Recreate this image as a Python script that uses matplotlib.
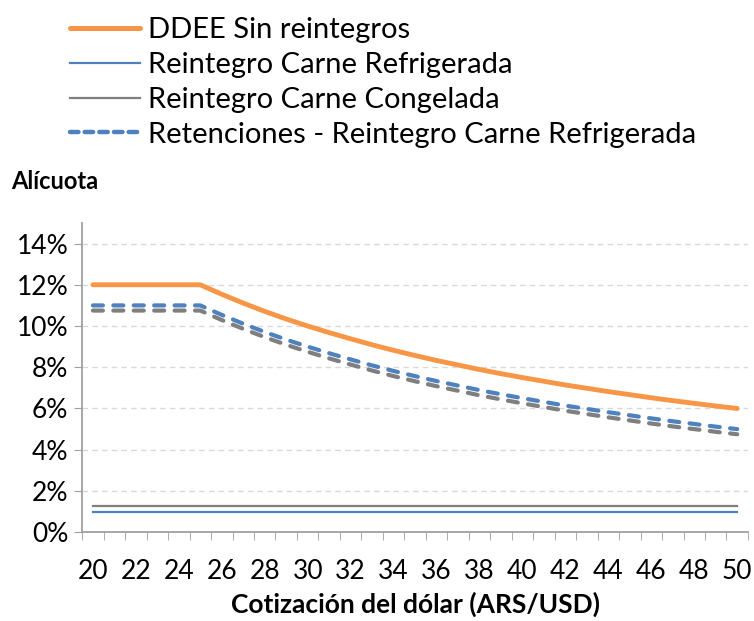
import matplotlib.pyplot as plt
from matplotlib.lines import Line2D

# cotizacion del dolar (categorias del eje x)
cotizacion = list(range(20, 51))

# alicuotas en %
ddee = [12.0, 12.0, 12.0, 12.0, 12.0, 12.0, 11.54, 11.11, 10.71, 10.34, 10.0,
        9.68, 9.38, 9.09, 8.82, 8.57, 8.33, 8.11, 7.89, 7.69, 7.5,
        7.32, 7.14, 6.98, 6.82, 6.67, 6.52, 6.38, 6.25, 6.12, 6.0]
reint_refrig = [1.0] * 31
reint_cong = [1.25] * 31
ret_refrig = [11.0, 11.0, 11.0, 11.0, 11.0, 11.0, 10.54, 10.11, 9.71, 9.34, 9.0,
              8.68, 8.38, 8.09, 7.82, 7.57, 7.33, 7.11, 6.89, 6.69, 6.5,
              6.32, 6.14, 5.98, 5.82, 5.67, 5.52, 5.38, 5.25, 5.12, 5.0]
ret_cong = [10.75, 10.75, 10.75, 10.75, 10.75, 10.75, 10.29, 9.86, 9.46, 9.09, 8.75,
            8.43, 8.13, 7.84, 7.57, 7.32, 7.08, 6.86, 6.64, 6.44, 6.25,
            6.07, 5.89, 5.73, 5.57, 5.42, 5.27, 5.13, 5.0, 4.87, 4.75]

legend_labels = ["DDEE Sin reintegros", "Reintegro Carne Refrigerada",
                 "Reintegro Carne Congelada", "Retenciones - Reintegro Carne Refrigerada"]

ORANGE = "#F79646"
BLUE = "#4F81BD"
GRAY = "#7F7F7F"
DASH = (0, (2.4, 2.5))

plt.rcParams['font.family'] = ['Lato', 'DejaVu Sans']

fig = plt.figure(figsize=(7.54, 6.21), dpi=100)
ax = fig.add_axes([0.109, 0.143, 0.883, 0.498])

pos = list(range(len(cotizacion)))

ax.plot(pos, reint_refrig, color=BLUE, lw=1.6)
ax.plot(pos, reint_cong, color=GRAY, lw=1.6)
ax.plot(pos, ret_cong, color=GRAY, lw=3, ls=DASH, dash_capstyle='round')
ax.plot(pos, ret_refrig, color=BLUE, lw=3, ls=DASH, dash_capstyle='round')
ax.plot(pos, ddee, color=ORANGE, lw=3.5, solid_capstyle='round')

ax.set_xlim(-0.5, len(cotizacion) - 0.5)
ax.set_ylim(0, 15)
ax.set_yticks(range(0, 15, 2))
ax.set_yticklabels([f"{v}%" for v in range(0, 15, 2)], fontsize=19)

# etiquetas cada 2 categorias, marcas en los limites de categoria
ax.set_xticks(pos[::2])
ax.set_xticklabels([str(c) for c in cotizacion[::2]], fontsize=19)
ax.set_xticks([p - 0.5 for p in pos] + [pos[-1] + 0.5], minor=True)
ax.tick_params(axis='x', which='major', length=0, pad=19)
ax.tick_params(axis='x', which='minor', length=6, color="#A0A0A0")
ax.tick_params(axis='y', length=6, color="#A0A0A0", pad=4)

ax.grid(axis='y', color="#D9D9D9", ls=(0, (4, 3)), lw=1)
ax.set_axisbelow(True)
for s in ['top', 'right']:
    ax.spines[s].set_visible(False)
for s in ['left', 'bottom']:
    ax.spines[s].set_color("#A0A0A0")
    ax.spines[s].set_linewidth(1.3)

ax.set_xlabel("Cotización del dólar (ARS/USD)", fontsize=19, fontweight='bold', labelpad=6)
fig.text(0.015, 0.707, "Alícuota", fontsize=17, fontweight='bold', va='center')

handles = [
    Line2D([], [], color=ORANGE, lw=3.6, solid_capstyle='round'),
    Line2D([], [], color=BLUE, lw=1.6),
    Line2D([], [], color=GRAY, lw=1.6),
    Line2D([], [], color=BLUE, lw=3.2, ls=(0, (1.9, 1.4)), dash_capstyle='round'),
]
fig.legend(handles, legend_labels, loc='upper left', bbox_to_anchor=(0.093, 0.972),
           frameon=False, fontsize=21, handlelength=2.4, handletextpad=0.28,
           labelspacing=0.3, borderaxespad=0, borderpad=0)

fig.savefig("out.png", dpi=100)
